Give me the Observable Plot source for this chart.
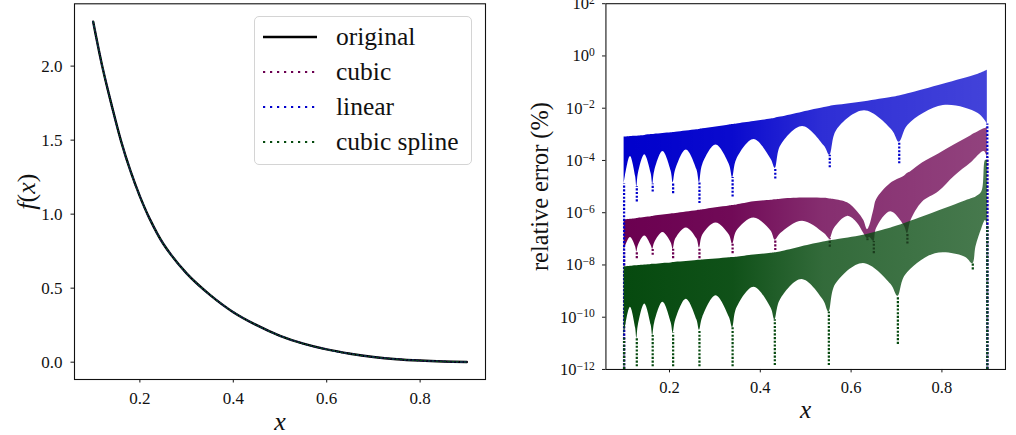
<!DOCTYPE html>
<html><head><meta charset="utf-8">
<script src="https://cdn.jsdelivr.net/npm/d3@7"></script>
<script src="https://cdn.jsdelivr.net/npm/@observablehq/plot@0.6"></script>
<style>
html,body{margin:0;padding:0;background:#fff;}
#wrap{position:relative;width:1016px;height:435px;overflow:hidden;font-family:"Liberation Serif",serif;}
#left{position:absolute;left:0;top:0;}
#right{position:absolute;left:500px;top:0;}
#legend{position:absolute;left:254px;top:16px;width:218px;height:149px;box-sizing:border-box;border:1px solid #d4d4d4;border-radius:5px;background:rgba(255,255,255,0.85);}
.li{position:absolute;left:8px;height:30px;width:205px;}
.li svg{position:absolute;left:0;top:10px;}
.li span{position:absolute;left:73px;top:0;line-height:30px;font-size:25.5px;color:#111;white-space:nowrap;}
</style></head>
<body>
<div id="wrap"><div id="left"></div><div id="right"></div><div id="legend"></div></div>
<script>
// ---------- data ----------
const seriesNames = ["original", "cubic", "linear", "cubic spline"];
const seriesColors = ["#000000", "#6b0050", "#0000cc", "#064a0f"];
const xTicks = [0.2, 0.4, 0.6, 0.8];
const fTicks = [0.0, 0.5, 1.0, 1.5, 2.0];
const errTicks = [1e-12, 1e-10, 1e-8, 1e-6, 1e-4, 1e-2, 1e0, 1e2];

// left panel: f(x)
const fX = [0.1, 0.12, 0.14, 0.16, 0.18, 0.2, 0.22, 0.25, 0.3, 0.35, 0.4, 0.45, 0.5, 0.55, 0.6, 0.65, 0.7, 0.75, 0.8, 0.85, 0.9];
const fY = [2.30, 1.99, 1.73, 1.49, 1.29, 1.12, 0.975, 0.80, 0.60, 0.455, 0.338, 0.25, 0.178, 0.125, 0.086, 0.057, 0.035, 0.02, 0.011, 0.005, 0.001];

// right panel: relative error bands (log10 of %), lower edge and upper edge
const blueX = [0.1, 0.1028, 0.114, 0.1252, 0.128, 0.1315, 0.1455, 0.1595, 0.163, 0.1675, 0.1855, 0.2035, 0.208, 0.2138, 0.237, 0.2602, 0.266, 0.2733, 0.3025, 0.3317, 0.339, 0.3484, 0.386, 0.4236, 0.433, 0.445, 0.493, 0.541, 0.553, 0.5683, 0.6295, 0.6907, 0.706, 0.7254, 0.803, 0.88, 0.9];
const blueLo = [-4.9, -4.6, -3.85, -4.6, -5.0, -4.5, -3.78, -4.5, -4.9, -4.4, -3.66, -4.4, -4.85, -4.35, -3.60, -4.35, -4.85, -4.15, -3.41, -4.15, -4.65, -3.95, -3.20, -3.95, -4.3, -3.45, -2.70, -3.45, -3.8, -2.85, -2.10, -2.85, -3.3, -2.65, -1.90, -2.2, -2.6];
const blueHi = [-3.10, -3.10, -3.08, -3.07, -3.07, -3.06, -3.04, -3.01, -3.01, -3.00, -2.97, -2.94, -2.93, -2.92, -2.87, -2.82, -2.81, -2.79, -2.72, -2.64, -2.62, -2.60, -2.51, -2.41, -2.38, -2.34, -2.15, -1.97, -1.93, -1.89, -1.75, -1.58, -1.53, -1.45, -1.08, -0.70, -0.55];
const blueSpikeX = [0.1, 0.128, 0.163, 0.208, 0.266, 0.339, 0.433, 0.553, 0.706, 0.9];
const blueSpikeTip = [-12, -5.59, -5.21, -5.27, -5.65, -5.40, -4.71, -4.28, -4.13, -12];
const blueSpikeTop = [-4.9, -5.0, -4.9, -4.85, -4.85, -4.65, -4.3, -3.8, -3.3, -2.6];

const purpleX = [0.1, 0.1028, 0.114, 0.1252, 0.128, 0.1315, 0.1455, 0.1595, 0.163, 0.1675, 0.1855, 0.2035, 0.208, 0.2138, 0.237, 0.2602, 0.266, 0.2733, 0.3025, 0.3317, 0.339, 0.3484, 0.386, 0.4236, 0.433, 0.445, 0.493, 0.541, 0.553, 0.563, 0.592, 0.614, 0.628, 0.636, 0.641, 0.65, 0.656, 0.687, 0.717, 0.724, 0.732, 0.757, 0.793, 0.828, 0.864, 0.893, 0.9];
const purpleLo = [-7.45, -7.3, -6.95, -7.3, -7.5, -7.25, -6.89, -7.25, -7.4, -7.15, -6.76, -7.15, -7.4, -7.0, -6.58, -7.0, -7.35, -6.85, -6.39, -6.85, -7.2, -6.7, -6.2, -6.7, -7.05, -6.8, -6.33, -6.8, -7.0, -6.6, -6.14, -6.4, -6.8, -7.0, -6.95, -7.1, -6.6, -5.96, -6.5, -6.8, -6.3, -5.6, -5.2, -4.6, -4.1, -3.66, -3.9];
const purpleHi = [-6.27, -6.27, -6.25, -6.23, -6.22, -6.21, -6.18, -6.15, -6.14, -6.13, -6.09, -6.05, -6.04, -6.03, -5.97, -5.92, -5.91, -5.89, -5.81, -5.74, -5.72, -5.70, -5.58, -5.52, -5.50, -5.48, -5.44, -5.45, -5.47, -5.49, -5.62, -5.96, -6.3, -6.65, -6.5, -5.9, -5.5, -4.88, -4.6, -4.5, -4.42, -4.1, -3.75, -3.4, -3.05, -2.79, -2.75];
const purpleSpikeX = [0.1, 0.128, 0.163, 0.208, 0.266, 0.339, 0.433, 0.553, 0.636, 0.65, 0.724, 0.9];
const purpleSpikeTip = [-12, -7.76, -7.63, -7.76, -7.76, -7.57, -7.45, -7.32, -7.07, -7.57, -7.2, -12];
const purpleSpikeTop = [-7.45, -7.5, -7.4, -7.4, -7.35, -7.2, -7.05, -7.0, -7.0, -7.1, -6.8, -3.9];

const greenX = [0.1, 0.1028, 0.114, 0.1252, 0.128, 0.1315, 0.1455, 0.1595, 0.163, 0.1675, 0.1855, 0.2035, 0.208, 0.2138, 0.237, 0.2602, 0.266, 0.2733, 0.3025, 0.3317, 0.339, 0.3484, 0.386, 0.4236, 0.432, 0.444, 0.4915, 0.539, 0.551, 0.566, 0.627, 0.688, 0.703, 0.7195, 0.7855, 0.8515, 0.868, 0.875, 0.888, 0.896, 0.9];
const greenLo = [-10.8, -10.4, -9.62, -10.4, -10.8, -10.3, -9.49, -10.3, -10.7, -10.2, -9.43, -10.2, -10.6, -10.1, -9.31, -10.1, -10.5, -10.0, -9.18, -10.0, -10.4, -9.65, -8.85, -9.65, -10.1, -9.35, -8.56, -9.35, -9.8, -8.75, -7.94, -8.75, -9.2, -8.4, -7.57, -7.7, -7.95, -7.3, -6.6, -6.3, -6.5];
const greenHi = [-8.07, -8.07, -8.05, -8.03, -8.03, -8.02, -8.0, -7.98, -7.97, -7.97, -7.94, -7.92, -7.91, -7.90, -7.87, -7.83, -7.82, -7.81, -7.77, -7.72, -7.71, -7.70, -7.62, -7.55, -7.53, -7.50, -7.30, -7.12, -7.08, -7.04, -6.86, -6.58, -6.5, -6.4, -5.98, -5.55, -5.45, -5.4, -5.2, -4.0, -4.0];
const greenSpikeX = [0.1, 0.128, 0.163, 0.208, 0.266, 0.339, 0.432, 0.551, 0.703, 0.868, 0.9];
const greenSpikeTip = [-12, -11.9, -11.9, -11.9, -11.9, -11.9, -11.85, -11.85, -11.04, -8.19, -12];
const greenSpikeTop = [-10.8, -10.8, -10.7, -10.6, -10.5, -10.4, -10.1, -9.8, -9.2, -7.95, -6.5];

// ---------- build tables ----------
const fRows = fX.map((x, i) => ({x, y: fY[i]}));
const band = (X, Lo, Hi) => X.map((x, i) => ({x, lo: Math.pow(10, Lo[i]), hi: Math.pow(10, Hi[i])}));
const spikes = (X, T, U) => X.map((x, i) => ({x, tip: Math.pow(10, T[i]), top: Math.pow(10, U[i])}));
const [cOrig, cCubic, cLin, cSpline] = seriesColors;
const FONT = "Liberation Serif, DejaVu Serif, serif";
const lbl = {textAnchor: "middle", lineAnchor: "middle"};
const NS = "http://www.w3.org/2000/svg";

const left = Plot.plot({
  width: 500, height: 435, marginLeft: 74, marginRight: 15, marginTop: 3.3, marginBottom: 56,
  style: {fontFamily: FONT, fontSize: "17px", color: "#111", background: "transparent"},
  x: {domain: [0.06, 0.94]},
  y: {domain: [-0.117, 2.421]},
  marks: [
    Plot.line(fRows, {x: "x", y: "y", stroke: cOrig, strokeWidth: 2.4, curve: "catmull-rom"}),
    Plot.line(fRows, {x: "x", y: "y", stroke: cCubic, strokeWidth: 1.4, strokeDasharray: "1.4,2.6", curve: "catmull-rom"}),
    Plot.line(fRows, {x: "x", y: "y", stroke: cLin, strokeWidth: 1.4, strokeDasharray: "1.4,2.6", curve: "catmull-rom"}),
    Plot.line(fRows, {x: "x", y: "y", stroke: cSpline, strokeWidth: 1.4, strokeDasharray: "1.4,2.6", curve: "catmull-rom"}),
    Plot.frame({stroke: "#111", strokeWidth: 1.1}),
    Plot.axisX({ticks: xTicks, tickSize: 3.5, tickPadding: 9, tickFormat: d3.format(".1f"), label: null}),
    Plot.axisY({ticks: fTicks, tickSize: 3.5, tickPadding: 8.5, tickFormat: d3.format(".1f"), label: null}),
    Plot.text(["x"], {frameAnchor: "bottom", dy: 42, fontStyle: "italic", fontSize: 26, ...lbl}),
    Plot.text(["f(x)"], {frameAnchor: "left", dx: -48, rotate: -90, fontSize: 26, ...lbl})
  ]
});
// f(x): italic f and x, upright parentheses
left.querySelectorAll("text").forEach(t => {
  if (t.textContent !== "f(x)") return;
  t.textContent = "";
  [["f", true], ["(", false], ["x", true], [")", false]].forEach(([s, it]) => {
    const sp = document.createElementNS(NS, "tspan");
    sp.textContent = s;
    if (it) sp.setAttribute("font-style", "italic");
    t.appendChild(sp);
  });
});
document.getElementById("left").appendChild(left);

const right = Plot.plot({
  width: 530, height: 435, marginLeft: 108.3, marginRight: 11.3, marginTop: 3.3, marginBottom: 56,
  style: {fontFamily: FONT, fontSize: "17px", color: "#111", background: "transparent"},
  x: {domain: [0.06, 0.94]},
  y: {type: "log", domain: [1e-12, 1e2]},
  marks: [
    Plot.areaY(band(purpleX, purpleLo, purpleHi), {x: "x", y1: "lo", y2: "hi", fill: "url(#gPurple)", curve: "catmull-rom"}),
    Plot.ruleX(spikes(purpleSpikeX, purpleSpikeTip, purpleSpikeTop), {x: "x", y1: "tip", y2: "top", stroke: cCubic, strokeWidth: 2.3, strokeDasharray: "2.2,1.6"}),
    Plot.areaY(band(blueX, blueLo, blueHi), {x: "x", y1: "lo", y2: "hi", fill: "url(#gBlue)", curve: "catmull-rom"}),
    Plot.ruleX(spikes(blueSpikeX, blueSpikeTip, blueSpikeTop), {x: "x", y1: "tip", y2: "top", stroke: cLin, strokeWidth: 2.3, strokeDasharray: "2.2,1.6"}),
    Plot.areaY(band(greenX, greenLo, greenHi), {x: "x", y1: "lo", y2: "hi", fill: "url(#gGreen)", curve: "catmull-rom"}),
    Plot.ruleX(spikes(greenSpikeX, greenSpikeTip, greenSpikeTop), {x: "x", y1: "tip", y2: "top", stroke: cSpline, strokeWidth: 2.3, strokeDasharray: "2.2,1.6"}),
    Plot.frame({stroke: "#111", strokeWidth: 1.1}),
    Plot.axisX({ticks: xTicks, tickSize: 3.5, tickPadding: 9, tickFormat: d3.format(".1f"), label: null}),
    Plot.axisY({ticks: errTicks, tickSize: 3.5, tickPadding: 8, tickFormat: d => "10^" + Math.round(Math.log10(d)), label: null}),
    Plot.text(["x"], {frameAnchor: "bottom", dy: 42, fontStyle: "italic", fontSize: 26, ...lbl}),
    Plot.text(["relative error (%)"], {frameAnchor: "left", dx: -67, rotate: -90, fontSize: 25, ...lbl})
  ]
});
// gradients giving the denser left part / sparser right part of the dotted bands
const defs = document.createElementNS(NS, "defs");
function grad(id, color) {
  return `<linearGradient id="${id}" x1="0" x2="1" y1="0" y2="0">
    <stop offset="0" stop-color="${color}" stop-opacity="1"/>
    <stop offset="0.3" stop-color="${color}" stop-opacity="0.96"/>
    <stop offset="0.55" stop-color="${color}" stop-opacity="0.82"/>
    <stop offset="1" stop-color="${color}" stop-opacity="0.74"/></linearGradient>`;
}
defs.innerHTML = grad("gPurple", cCubic) + grad("gBlue", cLin) + grad("gGreen", cSpline);
right.insertBefore(defs, right.firstChild);
// superscript exponents on the log axis
right.querySelectorAll('g[aria-label="y-axis tick label"] text').forEach(t => {
  const s = t.textContent;
  if (!s.startsWith("10^")) return;
  const e = s.slice(3).replace("-", "\u2212");
  t.textContent = "";
  const a = document.createElementNS(NS, "tspan"); a.textContent = "10";
  const b = document.createElementNS(NS, "tspan"); b.textContent = e;
  b.setAttribute("dy", "-0.45em"); b.setAttribute("font-size", "0.7em");
  t.appendChild(a); t.appendChild(b);
});
document.getElementById("right").appendChild(right);

// legend
const legend = document.getElementById("legend");
seriesNames.forEach((name, i) => {
  const row = document.createElement("div");
  row.className = "li";
  row.style.top = (5 + i * 35) + "px";
  const dash = i === 0 ? "" : ` stroke-dasharray="2.2,4.8"`;
  row.innerHTML = `<svg width="54" height="10"><line x1="0" x2="54" y1="5" y2="5" stroke="${seriesColors[i]}" stroke-width="${i === 0 ? 2.4 : 2.2}"${dash}/></svg><span>${name}</span>`;
  legend.appendChild(row);
});
</script>
</body></html>
